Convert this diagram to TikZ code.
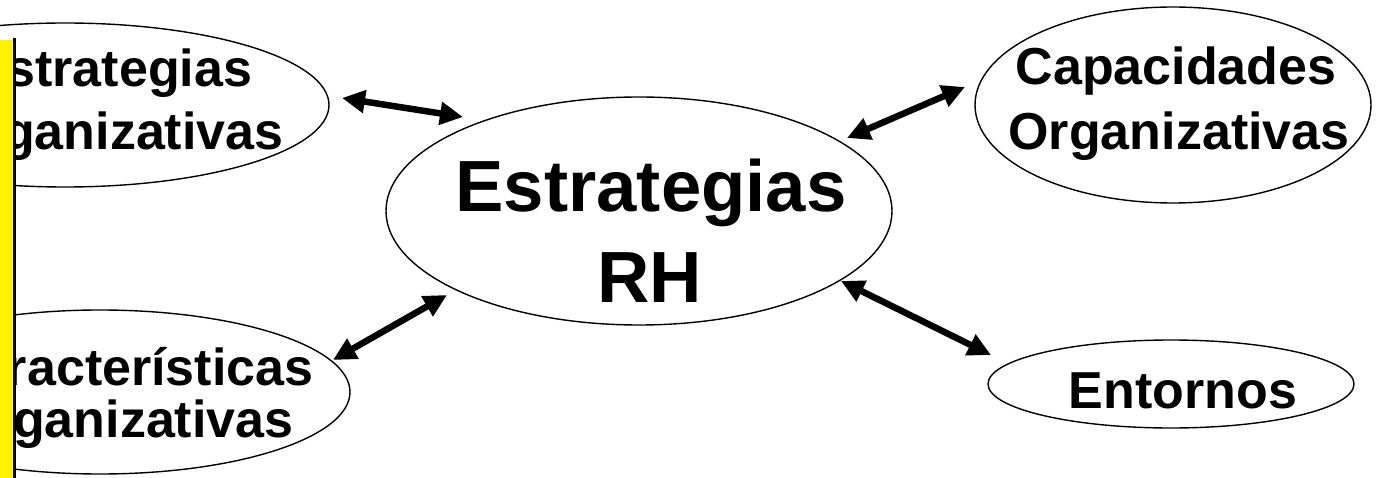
\documentclass[tikz,border=0pt]{standalone}
\usepackage{fontspec}
\setmainfont{Liberation Sans}
\usetikzlibrary{arrows.meta,shapes.geometric}
\tikzset{
  oval/.style={draw=black, line width=1.4pt, ellipse, inner sep=0pt},
  small/.style={font=\bfseries\fontsize{52}{65}\selectfont, anchor=base, inner sep=0pt},
  big/.style={font=\bfseries\fontsize{72.5}{90}\selectfont, anchor=base, inner sep=0pt},
  dblarrow/.style={line width=6.5pt, {Triangle[length=23pt,width=22pt]}-{Triangle[length=23pt,width=22pt]}}
}
\begin{document}
\begin{tikzpicture}[x=1pt,y=-1pt]
\useasboundingbox (0,0) rectangle (1378,478);
% ellipses
\node[oval, minimum width=528pt, minimum height=164pt] (eo) at (65,105) {};
\node[oval, minimum width=500pt, minimum height=164pt] (co) at (100,392) {};
\node[oval, minimum width=506pt, minimum height=228pt] (rh) at (639,211) {};
\node[oval, minimum width=396pt, minimum height=196pt] (cap) at (1173,105) {};
\node[oval, minimum width=366pt, minimum height=88pt] (ent) at (1171,384) {};
% texts
\node[small] (eo1) at (112,87) {Estrategias};
\node[small] (eo2) at (113,150) {Organizativas};
\node[small] (co1) at (127,385) {Características};
\node[small] (co2) at (123,437) {Organizativas};
\node[big] (rh1) at (651,212) {Estrategias};
\node[big] (rh2) at (650,302) {RH};
\node[small] (cap1) at (1176,85) {Capacidades};
\node[small] (cap2) at (1179,150) {Organizativas};
\node[small] (ent1) at (1183,408) {Entornos};
% arrow end points
\coordinate (a1) at (342,98);
\coordinate (b1) at (463,117);
\coordinate (a2) at (847,138);
\coordinate (b2) at (965,87);
\coordinate (a3) at (333,360);
\coordinate (b3) at (447,295);
\coordinate (a4) at (841,281);
\coordinate (b4) at (991,355);
\draw[dblarrow] (a1) -- (b1);
\draw[dblarrow] (a2) -- (b2);
\draw[dblarrow] (a3) -- (b3);
\draw[dblarrow] (a4) -- (b4);
% yellow bar
\fill[yellow] (-2,40) rectangle (13.5,480);
\draw[black, line width=2.5pt] (14.5,38) -- (14.5,480);
\end{tikzpicture}
\end{document}
